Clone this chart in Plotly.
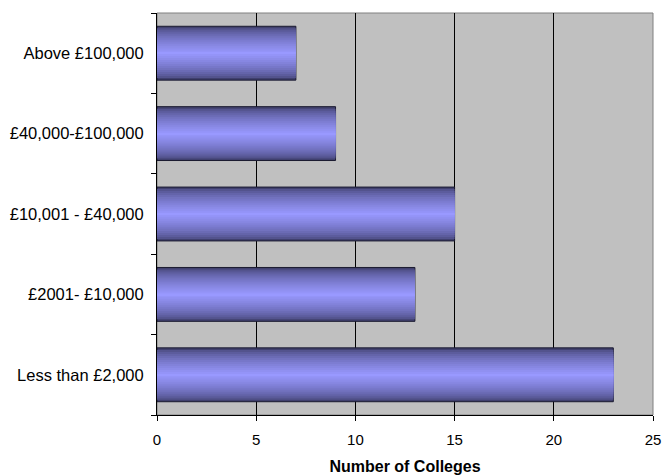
import plotly.graph_objects as go

categories = ["Less than £2,000", "£2001- £10,000", "£10,001 - £40,000", "£40,000-£100,000", "Above £100,000"]
colleges = [23, 13, 15, 9, 7]
x_ticks = [0, 5, 10, 15, 20, 25]

fig = go.Figure()

# layered bars to mimic the cylindrical gradient shading
n_layers = 14
full_w = 0.67
dark = (64, 64, 110)
light = (153, 153, 255)
for i in range(n_layers):
    t = i / (n_layers - 1)
    w = full_w * (1 - t) + 0.02 * t
    s = t ** 0.6
    c = tuple(int(dark[k] + (light[k] - dark[k]) * s) for k in range(3))
    fig.add_trace(go.Bar(
        y=categories, x=colleges, orientation="h", width=w,
        marker=dict(color="rgb(%d,%d,%d)" % c,
                    line=dict(color="#1a1a30" if i == 0 else "rgba(0,0,0,0)", width=1 if i == 0 else 0)),
        showlegend=False, hoverinfo="skip" if i else None,
    ))

fig.update_layout(
    width=664, height=475,
    margin=dict(l=157, r=11, t=13, b=60, autoexpand=False),
    barmode="overlay",
    paper_bgcolor="white",
    plot_bgcolor="#C0C0C0",
    font=dict(family="Liberation Sans, Arial", size=15, color="black"),
    xaxis=dict(range=[0, 25], tickvals=x_ticks, showgrid=True, gridcolor="black", gridwidth=1,
               showline=True, linecolor="black", linewidth=1, ticks="outside", ticklen=5,
               tickcolor="black", zeroline=False, automargin=False, ticklabelstandoff=6,
               title=dict(text="<b>Number of Colleges</b>", font=dict(size=16), standoff=13)),
    yaxis=dict(categoryorder="array", categoryarray=categories, showgrid=False,
               showline=True, linecolor="black", linewidth=1, ticks="outside", ticklen=5,
               tickcolor="black", tickson="boundaries", ticklabelstandoff=9, automargin=False,
               tickfont=dict(size=16.5)),
    shapes=[dict(type="rect", xref="paper", yref="paper", x0=0, x1=1, y0=0, y1=1,
                 line=dict(color="#808080", width=1), layer="below")],
)

fig.write_html("out.html", config={"displayModeBar": False},
               post_script="document.body.style.margin='0';document.body.style.padding='0';")
